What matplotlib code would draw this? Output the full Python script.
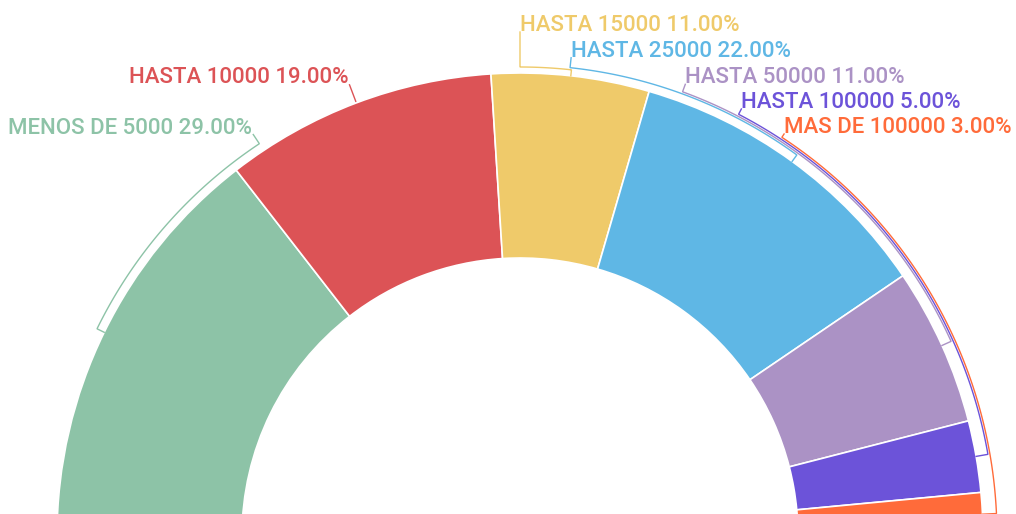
import numpy as np
import matplotlib
matplotlib.use("Agg")
import matplotlib.pyplot as plt

# data
labels = ["MENOS DE 5000", "HASTA 10000", "HASTA 15000", "HASTA 25000",
          "HASTA 50000", "HASTA 100000", "MAS DE 100000"]
shares = [29, 19, 11, 22, 11, 5, 3]
colors = ["#8DC3A7", "#DC5356", "#EFCA6A", "#5FB7E5", "#AB92C5", "#6C53D9", "#FF6B3A"]

# layout (pixels, centre of the half donut at the origin)
R_OUT = 463
R_IN = 278
label_angle = [123.6, None, 90.0, 83.9, 69.9, 62.6, 56.7]
arc_radius = [471, None, 469, 471, 473, 475, 477]
end_radius = [482, 483, 504, 481, 481, 481, 481]

plt.rcParams['font.family'] = ['Roboto', 'DejaVu Sans']

fig = plt.figure(figsize=(10.16, 5.14), dpi=100)
ax = fig.add_axes([0, 0, 1, 1])

# half donut: an invisible slice takes the lower half
total = sum(shares)
ax.pie(shares + [total], colors=colors + ["none"], startangle=180, counterclock=False,
       radius=R_OUT, wedgeprops=dict(width=R_OUT - R_IN, edgecolor="white", linewidth=1.2))

def polar(r, deg):
    a = np.radians(deg)
    return r * np.cos(a), r * np.sin(a)

start = 180.0
for i, (lab, val, col) in enumerate(zip(labels, shares, colors)):
    span = 180.0 * val / total
    mid = start - span / 2
    start -= span
    if label_angle[i] is None:
        # straight radial leader
        xs, ys = polar(np.array([R_OUT + 1, end_radius[i]]), mid)
        ax.plot(xs, ys, color=col, lw=1.0, solid_capstyle="butt")
        ang = mid
    else:
        ang = label_angle[i]
        ar = arc_radius[i]
        # inward tick at the slice middle
        xs, ys = polar(np.array([R_OUT, ar]), mid)
        th = np.linspace(mid, ang, 120)
        ax_, ay_ = polar(ar, th)
        xe, ye = polar(np.array([ar, end_radius[i]]), ang)
        ax.plot(np.concatenate([xs, ax_, xe]), np.concatenate([ys, ay_, ye]),
                color=col, lw=1.0, solid_joinstyle="miter")
    ex, ey = polar(end_radius[i], ang)
    if np.cos(np.radians(ang)) < -0.01:
        ax.text(ex - 1, ey + 1, f"{lab} {val:.2f}%", ha="right", va="baseline",
                color=col, fontsize=16.0, fontweight="medium")
    else:
        ax.text(ex, ey + 1, f"{lab} {val:.2f}%", ha="left", va="baseline",
                color=col, fontsize=16.0, fontweight="medium")

ax.set_xlim(-520, 496)
ax.set_ylim(22, 536)
ax.set_aspect("auto")
ax.axis("off")

fig.savefig("out.png", dpi=100, facecolor="white")
